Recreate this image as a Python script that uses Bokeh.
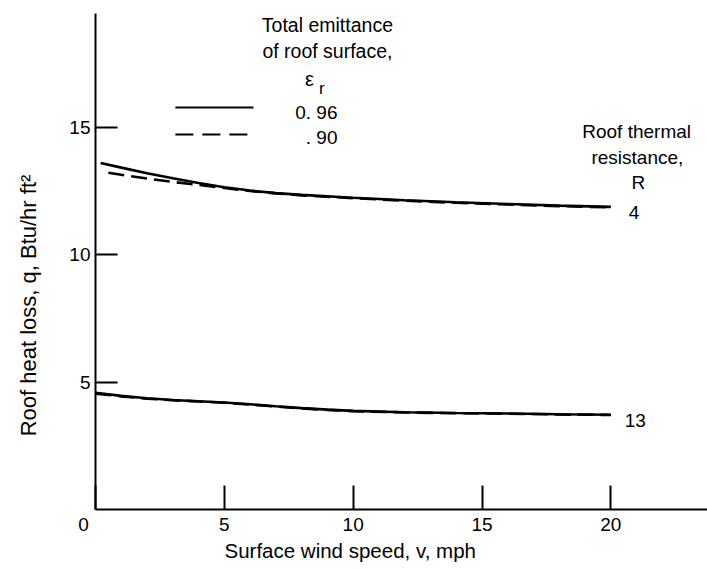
from bokeh.plotting import figure
from bokeh.models import Label, FixedTicker, Range1d
from bokeh.embed import file_html
from bokeh.resources import INLINE

FONT = "Liberation Sans"

# ---- data ----
wind_r4_096 = [0.2, 1, 2, 3, 4, 5, 6, 7, 8, 10, 12, 14, 16, 18, 20]
q_r4_096 = [13.60, 13.42, 13.20, 13.00, 12.82, 12.65, 12.52, 12.42, 12.35, 12.24, 12.14, 12.06, 11.99, 11.93, 11.88]
wind_r4_090 = [0.5, 1, 2, 3, 4, 5, 6, 7, 8, 10, 12, 14, 16, 18, 20]
q_r4_090 = [13.22, 13.14, 12.99, 12.86, 12.74, 12.62, 12.50, 12.41, 12.33, 12.22, 12.12, 12.04, 11.97, 11.91, 11.86]
wind_r13 = [0, 1, 2, 3, 4, 5, 6, 7, 8, 9, 10, 12, 14, 16, 18, 20]
q_r13_096 = [4.58, 4.46, 4.37, 4.30, 4.25, 4.20, 4.13, 4.05, 3.98, 3.92, 3.87, 3.82, 3.79, 3.77, 3.74, 3.72]
q_r13_090 = [4.55, 4.44, 4.35, 4.29, 4.24, 4.19, 4.12, 4.04, 3.97, 3.91, 3.86, 3.81, 3.78, 3.76, 3.73, 3.71]

x_ticks = [0, 5, 10, 15, 20]
y_ticks = [5, 10, 15]
emittance_labels = ["0. 96", ". 90"]
resistance_labels = ["4", "13"]

p = figure(width=707, height=569, output_backend="svg", toolbar_location=None,
           x_range=Range1d(0, 23.75), y_range=Range1d(0, 19.47),
           min_border_left=95, min_border_right=0, min_border_top=13, min_border_bottom=60)
p.background_fill_color = "white"
p.border_fill_color = "white"
p.outline_line_color = None
p.xgrid.grid_line_color = None
p.ygrid.grid_line_color = None

for ax in (p.xaxis[0], p.yaxis[0]):
    ax.axis_line_width = 2
    ax.axis_line_color = "black"
    ax.major_tick_line_width = 2
    ax.major_tick_line_color = "black"
    ax.major_tick_out = 0
    ax.minor_tick_line_color = None
    ax.major_label_text_font = FONT
    ax.major_label_text_font_size = "19px"
    ax.major_label_text_color = "black"
    ax.axis_label_text_font = FONT
    ax.axis_label_text_font_style = "normal"
    ax.axis_label_text_color = "black"

p.xaxis[0].ticker = FixedTicker(ticks=x_ticks)
p.xaxis[0].major_tick_in = 24
p.xaxis[0].major_label_standoff = 4
p.xaxis[0].major_label_overrides = {0: "0\u2003\u2005"}
p.xaxis[0].axis_label = "Surface wind speed, v, mph" + "\u2003" * 5
p.xaxis[0].axis_label_text_font_size = "20.5px"
p.xaxis[0].axis_label_standoff = 1

p.yaxis[0].ticker = FixedTicker(ticks=y_ticks)
p.yaxis[0].major_tick_in = 22
p.yaxis[0].major_label_standoff = 5
p.yaxis[0].axis_label = "Roof heat loss, q, Btu/hr ft\u00b2" + "\u2003" * 4
p.yaxis[0].axis_label_text_font_size = "22px"
p.yaxis[0].axis_label_standoff = 25

LW = 2.6
p.line(wind_r4_096, q_r4_096, line_color="black", line_width=LW)
p.line(wind_r4_090, q_r4_090, line_color="black", line_width=LW, line_dash="16 7")
p.line(wind_r13, q_r13_096, line_color="black", line_width=LW)
p.line(wind_r13, q_r13_090, line_color="black", line_width=LW, line_dash="16 7")

# legend sample lines
p.line([3.10, 6.13], [15.78, 15.78], line_color="black", line_width=2.2)
p.line([3.10, 6.13], [14.72, 14.72], line_color="black", line_width=2.2, line_dash="18 9")

def lab(x, y, text, align="center", size="19px"):
    p.add_layout(Label(x=x, y=y, text=text, text_align=align, text_baseline="alphabetic",
                       text_font=FONT, text_font_size=size, text_color="black"))

lab(9.0, 19.0, "Total emittance", size="19.5px")
lab(9.0, 17.98, "of roof surface,", size="19.5px")
lab(8.30, 16.88, "\u03b5", size="20px")
lab(8.78, 16.53, "r", size="17px")
lab(9.39, 15.59, emittance_labels[0], align="right")
lab(9.39, 14.60, emittance_labels[1], align="right")

lab(21.0, 14.84, "Roof thermal")
lab(21.03, 13.82, "resistance,")
lab(21.07, 12.84, "R")
lab(20.9, 11.66, resistance_labels[0])
lab(20.95, 3.49, resistance_labels[1])

open("out.html", "w").write(file_html(p, INLINE))
